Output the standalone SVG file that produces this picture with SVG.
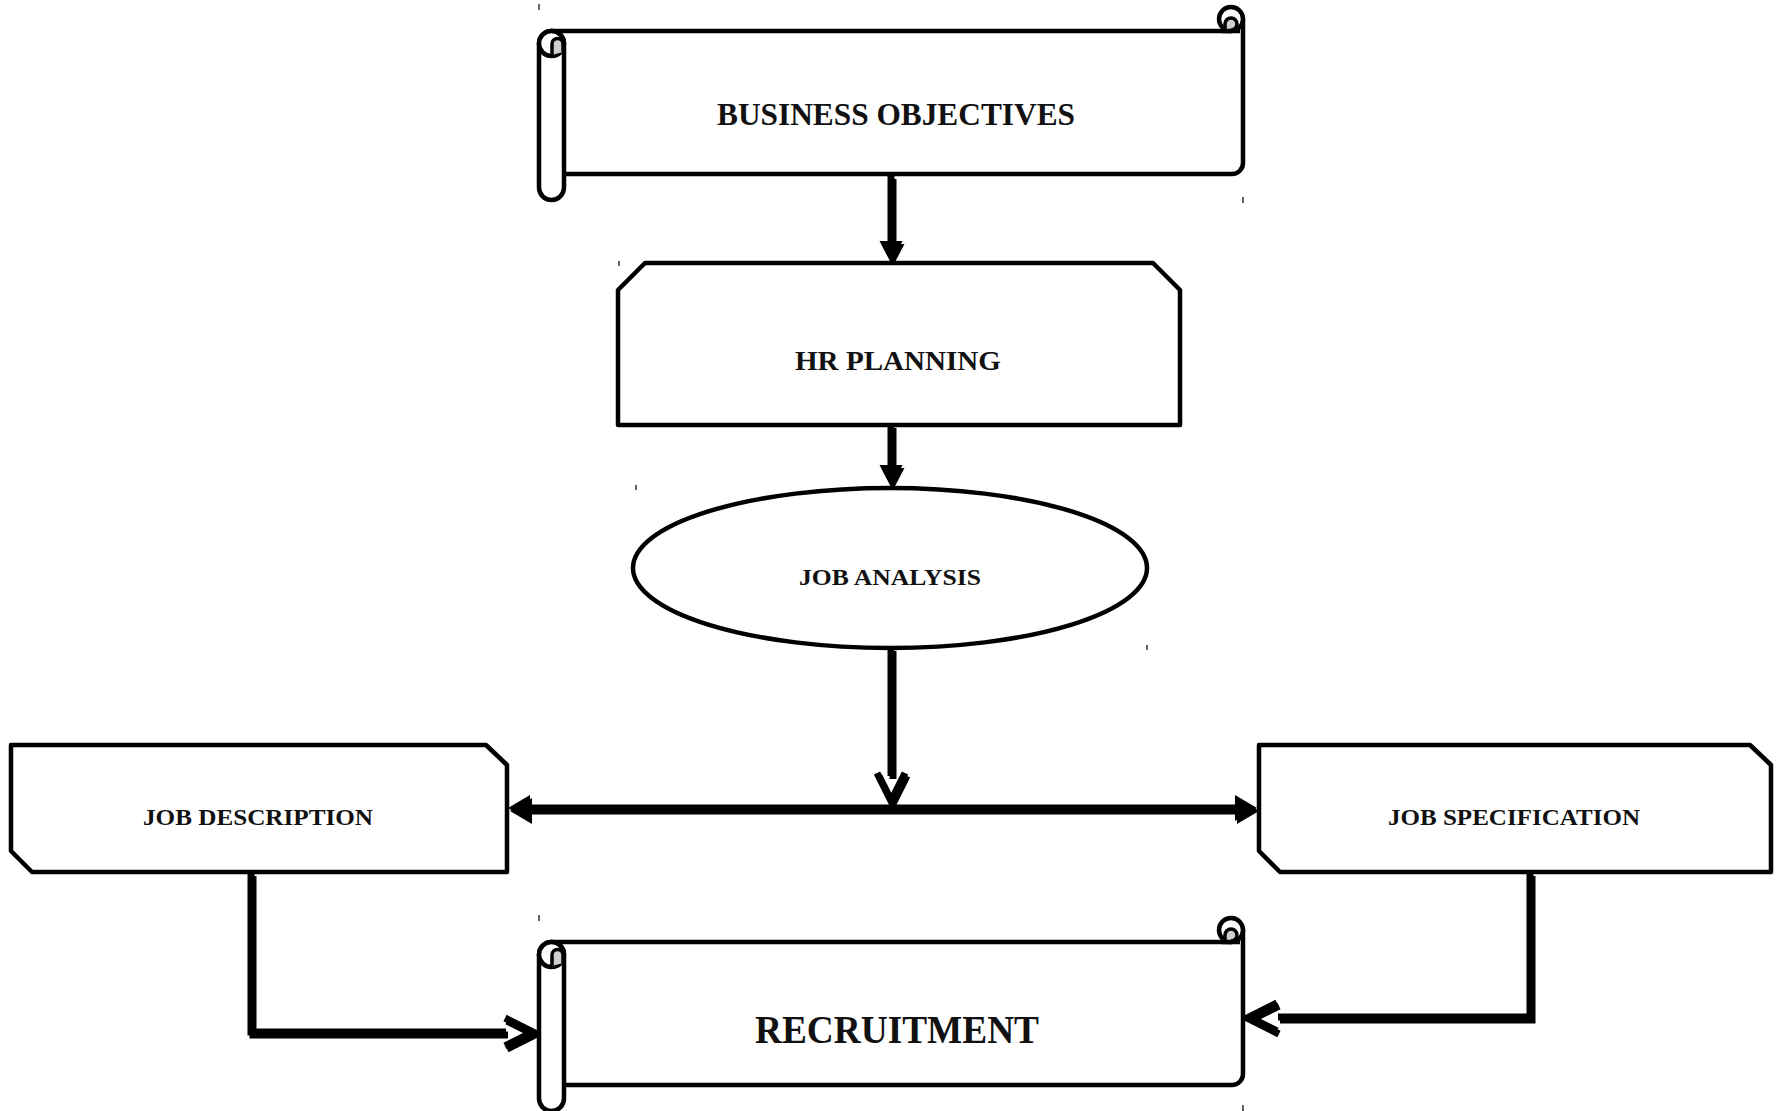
<svg xmlns="http://www.w3.org/2000/svg" xmlns:xlink="http://www.w3.org/1999/xlink" width="1777" height="1111" viewBox="0 0 1777 1111">
<style>
.shape{fill:#fff;stroke:#000;stroke-width:4.5;stroke-linejoin:round}
.curl{fill:#cfcfcf;stroke:#000;stroke-width:3.5}
.lbl{font-family:"Palatino Linotype","Book Antiqua",Palatino,"Liberation Serif",serif;font-weight:bold;fill:#111;text-anchor:middle}
.ln{fill:none;stroke:#000;stroke-width:7;stroke-linejoin:miter}
.sh .ln{stroke:#a6a6a6}
.head{fill:#000}
.sh .head{fill:#a6a6a6}
.tick{stroke:#000;stroke-width:1.2}
</style>
<defs>
<g id="scroll">
<path class="shape" d="M551,31 H1231 L1243,19 V163 A11,11 0 0 1 1232,174 H564"/>
<circle class="shape" cx="1231" cy="19" r="12"/>
<path class="curl" d="M1225,31 V24 A6,6 0 1 1 1231,30"/>
<line x1="1222" y1="31" x2="1240" y2="31" stroke="#000" stroke-width="4.5"/>
<rect class="shape" x="539" y="31" width="25" height="169" rx="12.5"/>
<circle class="shape" cx="551.5" cy="43.5" r="12.5"/>
<path class="curl" d="M552,55 V44 A5.5,5.5 0 0 1 563,44 V52"/>
</g>
<g id="conn">
<line class="ln" x1="891" y1="176" x2="891" y2="243"/>
<path class="head" d="M879.5,241 L902.5,241 L891,263 Z"/>
<line class="ln" x1="891" y1="425" x2="891" y2="467"/>
<path class="head" d="M879.5,465 L902.5,465 L891,487 Z"/>
<line class="ln" x1="891" y1="648" x2="891" y2="776"/>
<path class="ln" d="M877,773 L891,801 L905,773"/>
<line class="ln" x1="528" y1="808" x2="1238" y2="808"/>
<path class="head" d="M530,795 L530,821 L508,808 Z"/>
<path class="head" d="M1235,795 L1235,821 L1257,808 Z"/>
<path class="ln" d="M251,873 V1032 H506"/>
<path class="ln" d="M505,1018 L533,1032 L505,1046"/>
<path class="ln" d="M1530,873 V1017 H1278"/>
<path class="ln" d="M1277,1003 L1249,1017 L1277,1031"/>
</g>
</defs>
<g id="connectors">
<use class="sh" href="#conn" transform="translate(2,3)"/>
<use href="#conn"/>
</g>
<g id="business-objectives">
<use href="#scroll"/>
<text class="lbl" x="896" y="125" font-size="31" textLength="358" lengthAdjust="spacingAndGlyphs">BUSINESS OBJECTIVES</text>
</g>
<g id="hr-planning">
<path class="shape" d="M618,290 L645,263 H1153 L1180,290 V425 H618 Z"/>
<text class="lbl" x="898" y="370" font-size="27" textLength="206" lengthAdjust="spacingAndGlyphs">HR PLANNING</text>
</g>
<g id="job-analysis">
<ellipse class="shape" cx="890" cy="568" rx="257" ry="80"/>
<text class="lbl" x="890" y="585" font-size="24" textLength="182" lengthAdjust="spacingAndGlyphs">JOB ANALYSIS</text>
</g>
<g id="job-description">
<path class="shape" d="M11,745 H486 L507,765 V872 H32 L11,851 Z"/>
<text class="lbl" x="258" y="825" font-size="24" textLength="230" lengthAdjust="spacingAndGlyphs">JOB DESCRIPTION</text>
</g>
<g id="job-specification">
<path class="shape" d="M1259,745 H1750 L1771,765 V872 H1280 L1259,851 Z"/>
<text class="lbl" x="1514" y="825" font-size="24" textLength="252" lengthAdjust="spacingAndGlyphs">JOB SPECIFICATION</text>
</g>
<g id="recruitment">
<use href="#scroll" transform="translate(0,911)"/>
<text class="lbl" x="897" y="1043" font-size="40" textLength="284" lengthAdjust="spacingAndGlyphs">RECRUITMENT</text>
</g>
<g id="ticks">
<line class="tick" x1="539" y1="4" x2="539" y2="10"/>
<line class="tick" x1="1243" y1="197" x2="1243" y2="203"/>
<line class="tick" x1="619" y1="261" x2="619" y2="266"/>
<line class="tick" x1="636" y1="485" x2="636" y2="490"/>
<line class="tick" x1="1147" y1="645" x2="1147" y2="650"/>
<line class="tick" x1="539" y1="915" x2="539" y2="921"/>
<line class="tick" x1="1243" y1="1105" x2="1243" y2="1111"/>
</g>
</svg>
